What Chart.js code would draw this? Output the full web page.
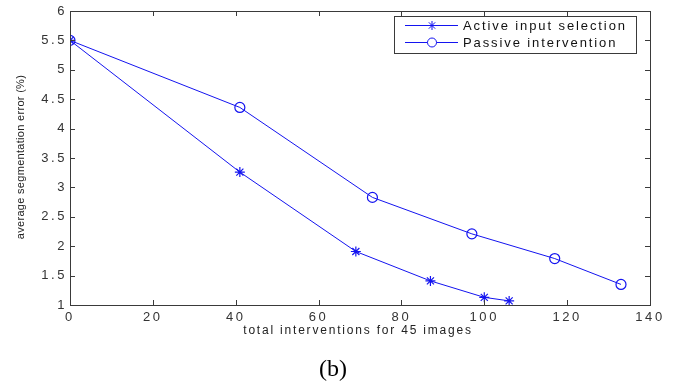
<!DOCTYPE html>
<html>
<head>
<meta charset="utf-8">
<script src="https://cdn.jsdelivr.net/npm/chart.js@4/dist/chart.umd.min.js"></script>
<style>
  html, body { margin: 0; padding: 0; background: #fff; }
  #wrap { width: 676px; height: 387px; position: relative; }
</style>
</head>
<body>
<div id="wrap"><canvas id="errChart" width="676" height="387"></canvas></div>
<script>
// values
var activeX = [0, 41, 69, 87, 100, 106];
var activeY = [5.5, 3.26, 1.91, 1.41, 1.13, 1.07];
var passiveX = [0, 41, 73, 97, 117, 133];
var passiveY = [5.5, 4.36, 2.83, 2.21, 1.79, 1.35];
var seriesNames = ["Active input selection", "Passive intervention"];
var xTitle = "total interventions for 45 images";
var yTitle = "average segmentation error (%)";
var caption = "(b)";

var blue = "#1414f0";
var frameColor = "#3a3a3a";

function toPoints(xs, ys){
  var pts = [];
  xs.forEach((x, i) => { pts.push({x: x, y: ys[i]}); });
  return pts;
}

// frame, inward ticks, legend, titles
const matlabLook = {
  id: 'matlabLook',
  beforeDraw: (chart) => {
    const ctx = chart.ctx;
    ctx.save();
    ctx.fillStyle = '#fff';
    ctx.fillRect(0, 0, chart.width, chart.height);
    ctx.restore();
    ctx.letterSpacing = '2.6px';
  },
  afterDraw: (chart) => {
    const ctx = chart.ctx;
    const a = chart.chartArea;
    const xs = chart.scales.x, ys = chart.scales.y;
    ctx.save();
    ctx.letterSpacing = '0px';
    ctx.strokeStyle = frameColor;
    ctx.lineWidth = 1;
    ctx.strokeRect(a.left + 0.5, a.top + 0.5, a.right - a.left, a.bottom - a.top);
    ctx.beginPath();
    xs.ticks.forEach(t => {
      var px = Math.round(xs.getPixelForValue(t.value)) + 0.5;
      ctx.moveTo(px, a.bottom); ctx.lineTo(px, a.bottom - 5);
      ctx.moveTo(px, a.top); ctx.lineTo(px, a.top + 5);
    });
    ys.ticks.forEach(t => {
      var py = Math.round(ys.getPixelForValue(t.value)) + 0.5;
      ctx.moveTo(a.left, py); ctx.lineTo(a.left + 5, py);
      ctx.moveTo(a.right, py); ctx.lineTo(a.right - 5, py);
    });
    ctx.stroke();

    // legend
    var lx = 394, ly = 16, lw = 242, lh = 37;
    ctx.fillStyle = '#fff';
    ctx.fillRect(lx, ly, lw, lh);
    ctx.strokeStyle = frameColor;
    ctx.strokeRect(lx + 0.5, ly + 0.5, lw, lh);
    var rows = [25, 42];
    var styles = ['star', 'circle'];
    rows.forEach((ry, i) => {
      ctx.strokeStyle = blue;
      ctx.lineWidth = 1;
      ctx.beginPath();
      ctx.moveTo(405, ry + 0.5); ctx.lineTo(458, ry + 0.5);
      ctx.stroke();
      ctx.fillStyle = '#fff';
      Chart.helpers.drawPoint(ctx, {pointStyle: styles[i], radius: 4.5, borderWidth: 1.2}, 432, ry + 0.5);
      ctx.fillStyle = '#111';
      ctx.font = '13px "Liberation Sans", Arial, sans-serif';
      ctx.letterSpacing = '1.9px';
      ctx.textAlign = 'left';
      ctx.textBaseline = 'middle';
      ctx.fillText(seriesNames[i], 463, ry + 1);
      ctx.letterSpacing = '0px';
    });

    // axis titles
    ctx.fillStyle = '#222';
    ctx.font = '12px "Liberation Sans", Arial, sans-serif';
    ctx.letterSpacing = '1.8px';
    ctx.textAlign = 'center';
    ctx.textBaseline = 'alphabetic';
    ctx.fillText(xTitle, 358, 334);

    ctx.save();
    ctx.translate(24, 157);
    ctx.rotate(-Math.PI / 2);
    ctx.font = '11px "Liberation Sans", Arial, sans-serif';
    ctx.letterSpacing = '0.3px';
    ctx.fillText(yTitle, 0, 0);
    ctx.restore();

    ctx.fillStyle = '#000';
    ctx.font = '24px "Liberation Serif", "Times New Roman", serif';
    ctx.letterSpacing = '0px';
    ctx.fillText(caption, 333, 376);
    ctx.restore();
    ctx.letterSpacing = '0px';
  }
};

new Chart(document.getElementById("errChart"), {
  type: "line",
  data: {
    datasets: [{
      label: seriesNames[0],
      data: toPoints(activeX, activeY),
      borderColor: blue,
      backgroundColor: blue,
      borderWidth: 1,
      pointStyle: 'star',
      pointRadius: 5,
      pointBorderColor: blue,
      pointBorderWidth: 1.2,
      tension: 0
    }, {
      label: seriesNames[1],
      data: toPoints(passiveX, passiveY),
      borderColor: blue,
      backgroundColor: 'rgba(0,0,0,0)',
      borderWidth: 1,
      pointStyle: 'circle',
      pointRadius: 5,
      pointBorderColor: blue,
      pointBorderWidth: 1.2,
      tension: 0
    }]
  },
  options: {
    responsive: false,
    animation: false,
    layout: { padding: { top: 11, right: 26, left: 0, bottom: 0 } },
    plugins: {
      legend: { display: false },
      tooltip: { enabled: false }
    },
    scales: {
      x: {
        type: 'linear',
        min: 0, max: 140,
        afterFit: (s) => { s.height = 82; },
        grid: { display: false, drawTicks: false },
        border: { display: false },
        ticks: {
          stepSize: 20,
          padding: 5,
          color: '#333',
          font: { size: 13, family: '"Liberation Sans", Arial, sans-serif' }
        }
      },
      y: {
        type: 'linear',
        min: 1, max: 6,
        afterFit: (s) => { s.width = 70; },
        grid: { display: false, drawTicks: false },
        border: { display: false },
        ticks: {
          stepSize: 0.5,
          padding: 3,
          color: '#333',
          callback: (v) => String(v),
          font: { size: 13, family: '"Liberation Sans", Arial, sans-serif' }
        }
      }
    }
  },
  plugins: [matlabLook]
});
</script>
</body>
</html>
